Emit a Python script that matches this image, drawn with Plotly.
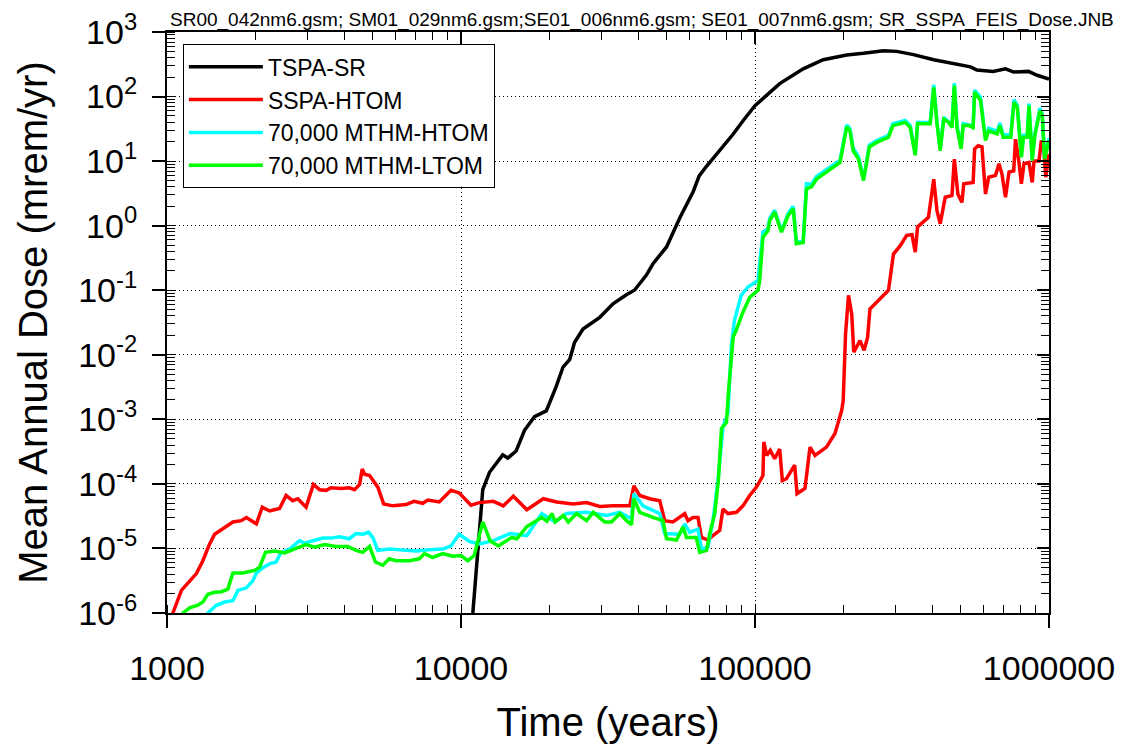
import numpy as np
import plotly.graph_objects as go

# ---- data (as log10 of years and log10 of mrem/yr) ----
tspa_log10_years = [4.035, 4.04, 4.057, 4.074, 4.097, 4.142, 4.159, 4.1875, 4.216, 4.25, 4.29, 4.324, 4.347,
                    4.37, 4.386, 4.415, 4.472, 4.517, 4.5625, 4.59, 4.63, 4.653, 4.699, 4.744, 4.79, 4.81,
                    4.835, 4.88, 4.926, 4.96, 5.0, 5.084, 5.164, 5.232, 5.312, 5.369, 5.437, 5.482, 5.539,
                    5.608, 5.687, 5.733, 5.755, 5.81, 5.852, 5.88, 5.93, 5.96, 6.0]
tspa_log10_dose = [-6.3, -6.0, -4.97, -4.09, -3.82, -3.55, -3.6, -3.49, -3.17, -2.96, -2.87, -2.49, -2.19,
                   -2.07, -1.81, -1.6, -1.42, -1.21, -1.07, -1.0, -0.77, -0.59, -0.33, 0.12, 0.53, 0.77,
                   0.92, 1.16, 1.42, 1.63, 1.86, 2.2, 2.43, 2.57, 2.645, 2.67, 2.71, 2.70, 2.65,
                   2.57, 2.50, 2.46, 2.41, 2.39, 2.43, 2.38, 2.39, 2.33, 2.27]

sspa_log10_years = [3.01, 3.02, 3.049, 3.077, 3.1, 3.122, 3.145, 3.162, 3.19, 3.224, 3.2525, 3.27, 3.304, 3.324,
                    3.349, 3.383, 3.405, 3.428, 3.445, 3.473, 3.498, 3.519, 3.541, 3.558, 3.592, 3.62, 3.638,
                    3.655, 3.664, 3.672, 3.689, 3.717, 3.737, 3.768, 3.813, 3.84, 3.87, 3.887, 3.926, 3.966,
                    3.994, 4.034, 4.062, 4.11, 4.144, 4.178, 4.224, 4.28, 4.325, 4.382, 4.427, 4.472, 4.517,
                    4.574, 4.588, 4.608, 4.642, 4.676, 4.693, 4.721, 4.761, 4.772, 4.789, 4.806, 4.818, 4.84,
                    4.857, 4.88, 4.891, 4.908, 4.937, 4.959, 4.982, 5.005, 5.027, 5.03, 5.04, 5.052, 5.067,
                    5.084, 5.093, 5.107, 5.135, 5.143, 5.17, 5.187, 5.204, 5.243, 5.272, 5.295, 5.3, 5.308,
                    5.318, 5.329, 5.336, 5.357, 5.371, 5.383, 5.391, 5.414, 5.454, 5.471, 5.494, 5.516, 5.534,
                    5.545, 5.553, 5.59, 5.608, 5.619, 5.63, 5.647, 5.67, 5.678, 5.69, 5.704, 5.71, 5.742,
                    5.747, 5.759, 5.772, 5.784, 5.795, 5.818, 5.83, 5.84, 5.852, 5.864, 5.88, 5.886, 5.898,
                    5.906, 5.915, 5.932, 5.943, 5.949, 5.966, 5.974, 5.983, 5.989, 6.0]
sspa_log10_dose = [-6.1, -6.0, -5.65, -5.50, -5.39, -5.19, -4.93, -4.78, -4.70, -4.59, -4.57, -4.52, -4.62, -4.36,
                   -4.42, -4.38, -4.18, -4.26, -4.23, -4.36, -4.01, -4.09, -4.10, -4.06, -4.07, -4.06, -4.09,
                   -4.01, -3.77, -3.85, -3.87, -4.05, -4.31, -4.34, -4.32, -4.27, -4.30, -4.25, -4.28, -4.10,
                   -4.14, -4.33, -4.29, -4.27, -4.34, -4.19, -4.40, -4.23, -4.28, -4.31, -4.29, -4.35, -4.34,
                   -4.34, -4.03, -4.18, -4.23, -4.26, -4.57, -4.59, -4.46, -4.57, -4.52, -4.52, -4.83, -4.87,
                   -4.80, -4.72, -4.39, -4.46, -4.44, -4.34, -4.18, -4.05, -3.87, -3.35, -3.56, -3.48, -3.61,
                   -3.46, -3.95, -3.92, -3.71, -4.15, -4.07, -3.43, -3.56, -3.43, -3.22, -2.86, -2.71, -1.68,
                   -1.08, -1.37, -1.96, -1.78, -1.93, -1.73, -1.29, -1.19, -1.0, -0.44, -0.31, -0.15, -0.14,
                   -0.41, -0.02, 0.13, 0.72, 0.23, 0.03, 0.44, 0.47, 1.03, 0.49, 0.36, 0.65, 0.67,
                   1.19, 1.24, 1.22, 0.49, 0.75, 0.78, 0.96, 0.80, 0.44, 0.83, 0.85, 1.34, 0.98,
                   0.65, 0.96, 0.98, 0.67, 1.0, 1.0, 1.32, 1.16, 0.75, 1.11]

htom_log10_years = [3.13, 3.139, 3.168, 3.196, 3.224, 3.241, 3.27, 3.292, 3.304, 3.326, 3.349, 3.371, 3.388, 3.417,
                    3.451, 3.468, 3.496, 3.53, 3.558, 3.587, 3.62, 3.643, 3.666, 3.686, 3.7, 3.717, 3.756, 3.802,
                    3.847, 3.892, 3.938, 3.966, 3.994, 4.028, 4.062, 4.11, 4.167, 4.224, 4.275, 4.32, 4.359,
                    4.427, 4.495, 4.54, 4.58, 4.588, 4.619, 4.676, 4.693, 4.744, 4.761, 4.778, 4.806, 4.818,
                    4.84, 4.857, 4.874, 4.891, 4.908, 4.92, 4.93, 4.953, 4.976, 5.01, 5.027, 5.044, 5.05, 5.067,
                    5.09, 5.113, 5.13, 5.141, 5.164, 5.175, 5.192, 5.209, 5.243, 5.289, 5.3, 5.312, 5.323,
                    5.334, 5.352, 5.369, 5.389, 5.414, 5.454, 5.469, 5.511, 5.528, 5.545, 5.553, 5.596, 5.608,
                    5.619, 5.63, 5.642, 5.67, 5.678, 5.687, 5.701, 5.708, 5.742, 5.747, 5.767, 5.784, 5.795,
                    5.824, 5.833, 5.844, 5.87, 5.881, 5.892, 5.906, 5.913, 5.926, 5.932, 5.943, 5.951, 5.969,
                    5.977, 5.985, 6.0]
htom_log10_dose = [-6.1, -6.0, -5.88, -5.83, -5.81, -5.65, -5.61, -5.50, -5.38, -5.30, -5.24, -5.21, -5.06, -5.01,
                   -4.88, -4.92, -4.88, -4.84, -4.84, -4.82, -4.85, -4.77, -4.78, -4.75, -4.83, -5.03, -5.01, -5.03,
                   -5.04, -5.02, -5.01, -4.96, -4.78, -4.89, -4.93, -4.88, -4.77, -4.80, -4.46, -4.59, -4.46,
                   -4.44, -4.49, -4.44, -4.54, -4.15, -4.34, -4.46, -4.77, -4.78, -4.62, -4.75, -4.70, -5.01,
                   -4.98, -4.57, -3.95, -3.12, -2.90, -1.84, -1.47, -1.08, -0.95, -0.85, -0.10, -0.05, 0.11, 0.24,
                   -0.08, 0.19, 0.30, -0.26, -0.23, 0.65, 0.64, 0.76, 0.86, 1.01, 1.27, 1.56, 1.50,
                   1.20, 1.07, 0.72, 1.25, 1.32, 1.40, 1.58, 1.63, 1.55, 1.11, 1.60, 1.60, 2.18,
                   1.60, 1.19, 1.68, 1.55, 2.21, 1.55, 1.22, 1.58, 1.55, 2.10, 1.99, 1.34, 1.51,
                   1.46, 1.59, 1.41, 1.41, 1.95, 1.87, 1.09, 1.40, 1.40, 1.89, 1.03, 1.40, 1.82,
                   1.73, 1.06, 1.35]

ltom_log10_years = [3.045, 3.054, 3.077, 3.105, 3.122, 3.139, 3.162, 3.185, 3.207, 3.224, 3.258, 3.298, 3.315, 3.335,
                    3.366, 3.4, 3.439, 3.473, 3.502, 3.536, 3.575, 3.615, 3.643, 3.666, 3.689, 3.709, 3.734, 3.756,
                    3.779, 3.824, 3.858, 3.876, 3.904, 3.938, 3.972, 4.0, 4.023, 4.045, 4.074, 4.099, 4.127, 4.172,
                    4.19, 4.224, 4.275, 4.292, 4.31, 4.32, 4.348, 4.365, 4.393, 4.427, 4.45, 4.489, 4.512, 4.54,
                    4.563, 4.58, 4.588, 4.608, 4.653, 4.687, 4.699, 4.733, 4.755, 4.767, 4.8, 4.812, 4.835, 4.846,
                    4.863, 4.875, 4.886, 4.903, 4.909, 4.92, 4.926, 4.936, 4.959, 4.982, 5.01, 5.016, 5.027, 5.044,
                    5.05, 5.067, 5.09, 5.113, 5.13, 5.141, 5.164, 5.175, 5.192, 5.209, 5.243, 5.289, 5.3, 5.312,
                    5.323, 5.334, 5.352, 5.369, 5.389, 5.414, 5.454, 5.469, 5.511, 5.528, 5.545, 5.553, 5.596,
                    5.608, 5.619, 5.63, 5.642, 5.659, 5.67, 5.678, 5.687, 5.701, 5.708, 5.727, 5.742, 5.747, 5.767,
                    5.784, 5.795, 5.824, 5.833, 5.844, 5.87, 5.881, 5.892, 5.906, 5.913, 5.926, 5.932, 5.943, 5.951,
                    5.969, 5.977, 5.985, 6.0]
ltom_log10_dose = [-6.1, -6.0, -5.92, -5.88, -5.83, -5.71, -5.68, -5.67, -5.63, -5.38, -5.38, -5.34, -5.29, -5.06,
                   -5.04, -5.07, -5.0, -4.94, -4.98, -4.94, -4.97, -4.97, -5.03, -5.06, -4.97, -5.21, -5.26, -5.16,
                   -5.19, -5.19, -5.16, -5.08, -5.14, -5.08, -5.12, -5.11, -5.19, -5.11, -4.59, -4.88, -4.96, -4.83,
                   -4.85, -4.66, -4.52, -4.58, -4.46, -4.59, -4.49, -4.59, -4.46, -4.57, -4.44, -4.59, -4.59, -4.46,
                   -4.57, -4.63, -4.23, -4.44, -4.52, -4.57, -4.85, -4.87, -4.67, -4.83, -4.83, -5.06, -5.03, -4.77,
                   -4.46, -3.97, -3.14, -3.05, -2.61, -2.01, -1.72, -1.62, -1.34, -1.11, -1.0, -0.85, -0.18, -0.08,
                   0.08, 0.21, -0.10, 0.16, 0.26, -0.28, -0.26, 0.57, 0.60, 0.72, 0.83, 0.98, 1.24, 1.53,
                   1.47, 1.16, 1.03, 0.70, 1.22, 1.29, 1.37, 1.55, 1.60, 1.52, 1.09, 1.58, 1.58,
                   2.14, 1.58, 1.16, 1.65, 1.60, 1.52, 2.17, 1.52, 1.19, 1.55, 1.55, 1.52, 2.07, 1.94,
                   1.32, 1.47, 1.42, 1.55, 1.37, 1.37, 1.91, 1.84, 1.06, 1.37, 1.37, 1.86, 1.01, 1.37,
                   1.78, 1.71, 1.03, 1.32]

series = [
    ("TSPA-SR", tspa_log10_years, tspa_log10_dose, "#000000"),
    ("SSPA-HTOM", sspa_log10_years, sspa_log10_dose, "#ff0000"),
    ("70,000 MTHM-HTOM", htom_log10_years, htom_log10_dose, "#00ffff"),
    ("70,000 MTHM-LTOM", ltom_log10_years, ltom_log10_dose, "#00ff00"),
]

title_text = "SR00_042nm6.gsm; SM01_029nm6.gsm;SE01_006nm6.gsm; SE01_007nm6.gsm; SR_SSPA_FEIS_Dose.JNB"
x_tick_vals = [1000, 10000, 100000, 1000000]
x_tick_text = ["1000", "10000", "100000", "1000000"]
y_tick_vals = [1e-6, 1e-5, 1e-4, 1e-3, 1e-2, 1e-1, 1e0, 1e1, 1e2, 1e3]
y_tick_text = ["10<sup>-6</sup>", "10<sup>-5</sup>", "10<sup>-4</sup>", "10<sup>-3</sup>", "10<sup>-2</sup>",
               "10<sup>-1</sup>", "10<sup>0</sup>", "10<sup>1</sup>", "10<sup>2</sup>", "10<sup>3</sup>"]

FONT = "Liberation Sans, Arial, Helvetica, sans-serif"

fig = go.Figure()
for name, lx, ly, color in series:
    fig.add_trace(go.Scatter(
        x=10 ** np.array(lx), y=10 ** np.array(ly), mode="lines", name=name,
        line=dict(color=color, width=3.5), xaxis="x", yaxis="y"))

# empty helper trace so the mirrored (top/right) axes are drawn
fig.add_trace(go.Scatter(x=[], y=[], xaxis="x2", yaxis="y2", showlegend=False, hoverinfo="skip"))

common_minor = dict(dtick="D1", ticks="inside", ticklen=8, tickwidth=1, tickcolor="black", showgrid=False)
DOT = "1px,3px"

# the page adds an 8px body margin, so the figure is sized to fit inside the window
fig.update_layout(
    width=1118, height=736,
    margin=dict(l=159, r=77, t=24, b=131, autoexpand=False),
    paper_bgcolor="white", plot_bgcolor="white",
    font=dict(family=FONT, color="black"),
    showlegend=True,
    legend=dict(x=0.018, y=0.979, xanchor="left", yanchor="top",
                bgcolor="white", bordercolor="black", borderwidth=1,
                font=dict(size=23, family=FONT), itemwidth=74, tracegroupgap=0),
    title=dict(text=title_text, x=0.567, xanchor="center", y=0.985, yanchor="middle",
               font=dict(size=19, family=FONT)),
    xaxis=dict(type="log", range=[3, 6], showline=True, linecolor="black", linewidth=2,
               ticks="outside", ticklen=13, tickwidth=1.5, tickcolor="black",
               tickvals=x_tick_vals, ticktext=x_tick_text, tickfont=dict(size=34, family=FONT),
               ticklabelstandoff=11, automargin=False, ticklabeloverflow="allow",
               showgrid=True, gridcolor="black", griddash=DOT, gridwidth=1,
               minor=common_minor, zeroline=False,
               title=dict(text="Time (years)", font=dict(size=40, family=FONT), standoff=24)),
    yaxis=dict(type="log", range=[-6, 3], showline=True, linecolor="black", linewidth=2,
               ticks="outside", ticklen=13, tickwidth=1.5, tickcolor="black",
               tickvals=y_tick_vals, ticktext=y_tick_text, tickfont=dict(size=34, family=FONT),
               ticklabelstandoff=8, automargin=False, ticklabeloverflow="allow",
               showgrid=True, gridcolor="black", griddash=DOT, gridwidth=1,
               minor=common_minor, zeroline=False,
               title=dict(text="Mean Annual Dose (mrem/yr)", font=dict(size=40, family=FONT), standoff=18)),
    xaxis2=dict(type="log", range=[3, 6], overlaying="x", side="top", anchor="y2",
                showline=True, linecolor="black", linewidth=2, automargin=False,
                ticks="inside", ticklen=12, tickwidth=1.5, tickcolor="black", dtick=1,
                showticklabels=False, showgrid=False, zeroline=False, minor=common_minor),
    yaxis2=dict(type="log", range=[-6, 3], overlaying="y", side="right", anchor="x2",
                showline=True, linecolor="black", linewidth=2, automargin=False,
                ticks="inside", ticklen=12, tickwidth=1.5, tickcolor="black", dtick=1,
                showticklabels=False, showgrid=False, zeroline=False, minor=common_minor),
)

fig.write_html("out.html")
